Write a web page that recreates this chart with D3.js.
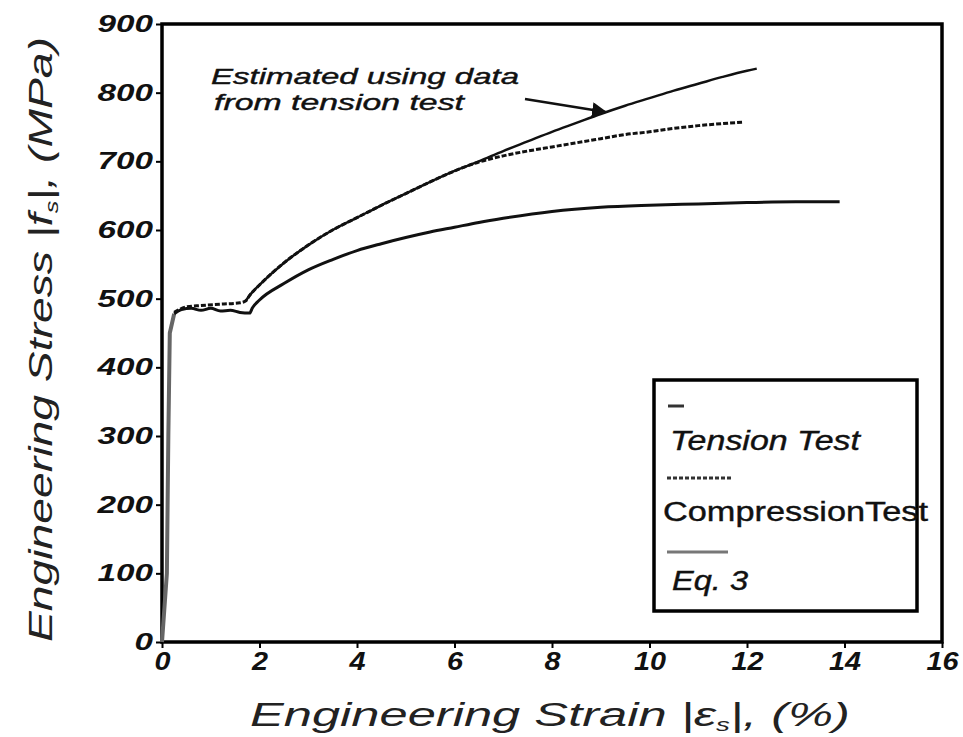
<!DOCTYPE html>
<meta charset="utf-8">
<title>engineering stress-strain</title>
<style>
body { margin: 0; background: #fff; }
svg { display: block; background: #fff; }
text { font-family: "Liberation Sans", Arial, sans-serif; }
.tick line { stroke: #000; stroke-width: 2; }
.domain { display: none; }
</style>
<script src="https://d3js.org/d3.v7.min.js"></script>
<body>
<script>
// strain (%) and stress (MPa)
var elasticStrain = [0, 0.1, 0.13, 0.16, 0.25];
var elasticStress = [0, 100, 300, 450, 478];

var tensionStrain = [0.25, 0.4, 0.6, 0.8, 1.0, 1.2, 1.4, 1.6, 1.8, 1.85, 2, 2.5, 3, 3.5, 4, 4.5, 5, 5.5, 6, 6.5, 7, 8, 9, 10, 11, 12, 13, 13.9];
var tensionStress = [478, 484, 486, 483, 486, 482, 483, 480, 479, 486, 498, 522, 542, 557, 570, 580, 589, 597, 604, 611, 617, 627, 633, 636, 638, 640, 641, 641];

var compStrain = [0.25, 0.5, 0.8, 1.2, 1.6, 1.72, 1.8, 2, 2.5, 3, 3.5, 4, 4.5, 5, 5.5, 6, 6.5, 7, 7.5, 8, 8.5, 9, 9.5, 10, 10.5, 11, 11.5, 11.9];
var compStress = [480, 488, 490, 492, 494, 497, 505, 520, 552, 578, 600, 618, 636, 653, 670, 686, 699, 708, 715, 721, 727, 733, 739, 743, 748, 752, 755, 757];

var eq3Strain = [1.72, 1.8, 2, 2.5, 3, 3.5, 4, 4.5, 5, 5.5, 6, 6.5, 7, 7.5, 8, 8.5, 9, 9.5, 10, 10.5, 11, 11.5, 12, 12.2];
var eq3Stress = [497, 505, 520, 552, 578, 600, 618, 636, 653, 670, 686, 700, 715, 729, 743, 756, 769, 781, 792, 803, 813, 823, 832, 835];

var xTicks = [0, 2, 4, 6, 8, 10, 12, 14, 16];
var yTicks = [0, 100, 200, 300, 400, 500, 600, 700, 800, 900];

var width = 963, height = 737;
var plotLeft = 162, plotTop = 24, plotRight = 942, plotBottom = 642;

var svg = d3.select("body").append("svg")
    .attr("width", width)
    .attr("height", height);

var x = d3.scaleLinear().domain([0, 16]).range([plotLeft, plotRight]);
var y = d3.scaleLinear().domain([0, 900]).range([plotBottom, plotTop]);

function zip(a, b) { return a.map(function(d, i) { return [d, b[i]]; }); }

var line = d3.line()
    .x(function(d) { return x(d[0]); })
    .y(function(d) { return y(d[1]); })
    .curve(d3.curveMonotoneX);

var straight = d3.line()
    .x(function(d) { return x(d[0]); })
    .y(function(d) { return y(d[1]); });

// axes
var xAxis = svg.append("g")
    .attr("transform", "translate(0," + plotBottom + ")")
    .call(d3.axisBottom(x).tickValues(xTicks).tickSize(6).tickPadding(4));
xAxis.selectAll("text")
    .attr("fill", "#111")
    .style("font-size", "25px")
    .style("font-style", "italic")
    .style("font-weight", "bold")
    .attr("textLength", function(d) { return String(d).length * 16; })
    .attr("lengthAdjust", "spacingAndGlyphs");

var yAxis = svg.append("g")
    .attr("transform", "translate(" + plotLeft + ",0)")
    .call(d3.axisLeft(y).tickValues(yTicks).tickSize(6).tickPadding(3));
yAxis.selectAll("text")
    .attr("fill", "#111")
    .style("font-size", "23px")
    .style("font-style", "italic")
    .style("font-weight", "bold")
    .attr("textLength", function(d) { return String(d).length * 18.5; })
    .attr("lengthAdjust", "spacingAndGlyphs");

// frame
svg.append("rect")
    .attr("x", plotLeft).attr("y", plotTop)
    .attr("width", plotRight - plotLeft).attr("height", plotBottom - plotTop)
    .attr("fill", "none")
    .attr("stroke", "#000")
    .attr("stroke-width", 3.5);

// curves
var curves = svg.append("g").attr("fill", "none").attr("stroke-linejoin", "round");

curves.append("path")
    .attr("d", straight(zip(elasticStrain, elasticStress)))
    .attr("stroke", "#666")
    .attr("stroke-width", 4);

curves.append("path")
    .attr("d", line(zip(tensionStrain, tensionStress)))
    .attr("stroke", "#111")
    .attr("stroke-width", 3);

curves.append("path")
    .attr("d", line(zip(compStrain, compStress)))
    .attr("stroke", "#111")
    .attr("stroke-width", 3)
    .attr("stroke-dasharray", "5,2");

curves.append("path")
    .attr("d", line(zip(eq3Strain, eq3Stress)))
    .attr("stroke", "#111")
    .attr("stroke-width", 2.5);

// annotation
var note = svg.append("g").attr("fill", "#111")
    .attr("stroke", "#111").attr("stroke-width", 0.4)
    .style("font-style", "italic")
    .style("font-size", "22px");
note.append("text").attr("x", 211).attr("y", 84)
    .attr("textLength", 308).attr("lengthAdjust", "spacingAndGlyphs")
    .text("Estimated using data");
note.append("text").attr("x", 214).attr("y", 110)
    .attr("textLength", 250).attr("lengthAdjust", "spacingAndGlyphs")
    .text("from tension test");

svg.append("defs").append("marker")
    .attr("id", "head")
    .attr("viewBox", "0 0 10 10")
    .attr("refX", 9).attr("refY", 5)
    .attr("markerWidth", 6).attr("markerHeight", 6)
    .attr("orient", "auto")
  .append("path")
    .attr("d", "M0,0L10,5L0,10z")
    .attr("fill", "#111");

svg.append("line")
    .attr("x1", 525).attr("y1", 99)
    .attr("x2", x(9.1)).attr("y2", y(772))
    .attr("stroke", "#111")
    .attr("stroke-width", 2.5)
    .attr("marker-end", "url(#head)");

// axis titles
var xTitle = svg.append("text")
    .attr("x", 250).attr("y", 726)
    .attr("fill", "#222")
    .style("font-size", "33px")
    .style("font-style", "italic")
    .attr("textLength", 600).attr("lengthAdjust", "spacingAndGlyphs");
xTitle.append("tspan").text("Engineering Strain |\u03b5");
xTitle.append("tspan").attr("dy", 5).style("font-size", "18px").text("s");
xTitle.append("tspan").attr("dy", -5).text("|, (%)");

var yTitle = svg.append("text")
    .attr("transform", "translate(52,642) rotate(-90)")
    .attr("fill", "#222")
    .style("font-size", "33px")
    .style("font-style", "italic")
    .attr("textLength", 605).attr("lengthAdjust", "spacingAndGlyphs");
yTitle.append("tspan").text("Engineering Stress |");
yTitle.append("tspan").text("f");
yTitle.append("tspan").attr("dy", 6).style("font-size", "18px").text("s");
yTitle.append("tspan").attr("dy", -6).text("|, (MPa)");

// legend
var legend = svg.append("g");
legend.append("rect")
    .attr("x", 654).attr("y", 380)
    .attr("width", 263).attr("height", 231)
    .attr("fill", "#fff")
    .attr("stroke", "#000")
    .attr("stroke-width", 3.5);

var legendNames = ["Tension Test", "CompressionTest", "Eq. 3"];
var legendText = [
  {x: 670, y: 450, w: 190, italic: true},
  {x: 663, y: 521, w: 265, italic: false},
  {x: 672, y: 590, w: 76, italic: true}
];
var legendSample = [
  {x1: 668, x2: 684, y: 406, dash: null, color: "#333"},
  {x1: 667, x2: 733, y: 478, dash: "4,2", color: "#333"},
  {x1: 667, x2: 728, y: 552, dash: null, color: "#777"}
];

legend.selectAll("line.sample")
    .data(legendSample)
  .enter().append("line")
    .attr("class", "sample")
    .attr("x1", function(d) { return d.x1; })
    .attr("x2", function(d) { return d.x2; })
    .attr("y1", function(d) { return d.y; })
    .attr("y2", function(d) { return d.y; })
    .attr("stroke", function(d) { return d.color; })
    .attr("stroke-width", 3)
    .attr("stroke-dasharray", function(d) { return d.dash; });

legend.selectAll("text")
    .data(legendNames)
  .enter().append("text")
    .attr("x", function(d, i) { return legendText[i].x; })
    .attr("y", function(d, i) { return legendText[i].y; })
    .attr("fill", "#111")
    .attr("stroke", "#111").attr("stroke-width", 0.4)
    .style("font-size", "27px")
    .style("font-style", function(d, i) { return legendText[i].italic ? "italic" : "normal"; })
    .attr("textLength", function(d, i) { return legendText[i].w; })
    .attr("lengthAdjust", "spacingAndGlyphs")
    .text(function(d) { return d; });
</script>
